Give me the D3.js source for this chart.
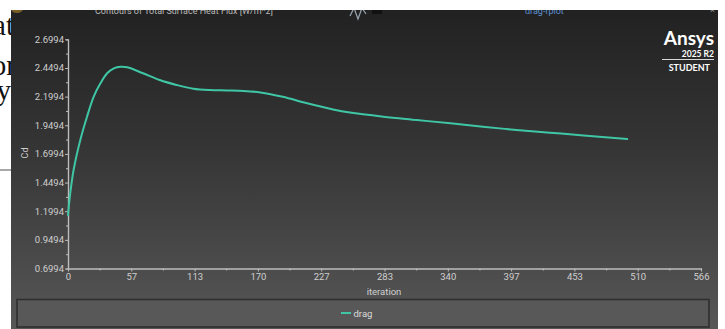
<!DOCTYPE html>
<html>
<head>
<meta charset="utf-8">
<script src="https://cdn.jsdelivr.net/npm/d3@7/dist/d3.min.js"></script>
<style>
  html, body { margin: 0; padding: 0; background: #ffffff; }
  svg { display: block; }
  text { font-family: Roboto, "Noto Sans", sans-serif; }
</style>
</head>
<body>
<svg id="chart" width="725" height="329"></svg>
<script>
// drag coefficient history (Fluent report plot "drag-rplot")
const iterations = [0, 2, 5, 11, 17, 23, 29, 35, 41, 47, 53, 67, 82, 97, 112, 127, 142, 157, 172, 192, 213, 237, 252, 282, 312, 342, 371, 401, 431, 461, 500];
const cd = [1.166, 1.355, 1.559, 1.821, 2.024, 2.199, 2.315, 2.403, 2.446, 2.460, 2.455, 2.403, 2.344, 2.301, 2.268, 2.256, 2.253, 2.249, 2.236, 2.198, 2.143, 2.087, 2.060, 2.024, 1.995, 1.966, 1.937, 1.908, 1.884, 1.861, 1.829];

const xMax = 566;
const xTickLabels = ["0", "57", "113", "170", "227", "283", "340", "397", "453", "510", "566"];
const yTickValues = [0.6994, 0.9494, 1.1994, 1.4494, 1.6994, 1.9494, 2.1994, 2.4494, 2.6994];
const seriesName = "drag";
const xTitle = "iteration";
const yTitle = "Cd";
const windowTitle = "Contours of Total Surface Heat Flux [W/m^2]";
const plotName = "drag-rplot";

const svg = d3.select("#chart");
const defs = svg.append("defs");
const grad = defs.append("linearGradient")
  .attr("id", "bg").attr("x1", 0).attr("y1", 0).attr("x2", 0).attr("y2", 1);
grad.append("stop").attr("offset", "0%").attr("stop-color", "#202020");
grad.append("stop").attr("offset", "45%").attr("stop-color", "#353535");
grad.append("stop").attr("offset", "100%").attr("stop-color", "#575757");

// document text peeking out to the left of the graphics window
const doc = svg.append("g").attr("font-size", 29).attr("fill", "#111").attr("text-anchor", "end");
doc.append("text").attr("x", 14).attr("y", 35).style("font-family", "'Liberation Serif', serif").text("at");
doc.append("text").attr("x", 16).attr("y", 75).style("font-family", "'Liberation Serif', serif").text("or");
doc.append("text").attr("x", 11).attr("y", 100).style("font-family", "'Liberation Serif', serif").text("y");
svg.append("rect").attr("x", 0).attr("y", 169).attr("width", 12).attr("height", 2).attr("fill", "#a8a8a8");

// graphics window panel
svg.append("rect").attr("x", 11).attr("y", 0).attr("width", 707).attr("height", 329).attr("fill", "url(#bg)");

// tab strip (clipped by the frame above)
svg.append("ellipse").attr("cx", 17).attr("cy", 9).attr("rx", 6).attr("ry", 4).attr("fill", "#7a5e28");
svg.append("text").attr("x", 95).attr("y", 13.5).attr("font-size", 9).attr("fill", "#b8b8b8").text(windowTitle);
svg.append("path").attr("d", "M350,16 L354,8 L358,19 L362,8 L366,14")
  .attr("fill", "none").attr("stroke", "#9aa6b2").attr("stroke-width", 1.2);
svg.append("rect").attr("x", 372).attr("y", 9).attr("width", 10).attr("height", 5).attr("fill", "#111");
svg.append("text").attr("x", 525).attr("y", 13.5).attr("font-size", 9).attr("fill", "#5d8fd0").text(plotName);
svg.append("text").attr("x", 710).attr("y", 13).attr("font-size", 9).attr("fill", "#999").text("×");
svg.append("rect").attr("x", 0).attr("y", 0).attr("width", 725).attr("height", 10).attr("fill", "#ffffff");

// scales
const x = d3.scaleLinear().domain([0, xMax]).range([68, 701]);
const y = d3.scaleLinear().domain([yTickValues[0], yTickValues[yTickValues.length - 1]]).range([268.5, 39.3]);

const axisColor = "#bdbdbd";
const labelColor = "#cfcfcf";

function styleAxis(g) {
  g.selectAll(".domain").attr("stroke", axisColor).attr("stroke-width", 1.2);
  g.selectAll(".tick line").attr("stroke", axisColor);
  g.selectAll(".tick text").attr("fill", labelColor).attr("font-size", 9.5)
    .style("font-family", "Roboto, 'Noto Sans', sans-serif");
}

// y axis with minor ticks
const yMinor = d3.range(yTickValues.length - 1).map(i => (yTickValues[i] + yTickValues[i + 1]) / 2);
svg.append("g").attr("transform", "translate(68,0)")
  .call(d3.axisLeft(y).tickValues(yMinor).tickSize(2).tickFormat(""))
  .call(styleAxis);
svg.append("g").attr("transform", "translate(68,0)")
  .call(d3.axisLeft(y).tickValues(yTickValues).tickSize(3).tickSizeOuter(0).tickPadding(1).tickFormat(d3.format(".4f")))
  .call(styleAxis);

// x axis with minor ticks
const xMajor = d3.range(xTickLabels.length).map(i => i * xMax / (xTickLabels.length - 1));
const xMinor = d3.range(xTickLabels.length - 1).map(i => (xMajor[i] + xMajor[i + 1]) / 2);
svg.append("g").attr("transform", "translate(0,268.5)")
  .call(d3.axisBottom(x).tickValues(xMinor).tickSize(2).tickFormat(""))
  .call(styleAxis);
svg.append("g").attr("transform", "translate(0,268.5)")
  .call(d3.axisBottom(x).tickValues(xMajor).tickSize(3).tickSizeOuter(0).tickPadding(2)
    .tickFormat((d, i) => xTickLabels[i]))
  .call(styleAxis);

// axis titles
svg.append("text").attr("x", 384).attr("y", 294.5).attr("text-anchor", "middle")
  .attr("font-size", 9.5).attr("fill", labelColor).text(xTitle);
svg.append("text").attr("transform", "translate(28,153) rotate(-90)").attr("text-anchor", "middle")
  .attr("font-size", 9).attr("fill", labelColor).text(yTitle);

// drag curve
const lineColor = "#3fc6a5";
const line = d3.line().x((d, i) => x(iterations[i])).y(d => y(d)).curve(d3.curveCatmullRom.alpha(0.5));
svg.append("path").datum(cd).attr("d", line)
  .attr("fill", "none").attr("stroke", lineColor).attr("stroke-width", 2).attr("stroke-linecap", "round");

// legend
svg.append("rect").attr("x", 17).attr("y", 299.5).attr("width", 692).attr("height", 27.5)
  .attr("fill", "#585858").attr("stroke", "#2f2f2f").attr("stroke-width", 1.6);
svg.append("line").attr("x1", 341).attr("x2", 351).attr("y1", 313).attr("y2", 313)
  .attr("stroke", lineColor).attr("stroke-width", 2);
svg.append("text").attr("x", 353.5).attr("y", 316.5).attr("font-size", 9.5).attr("fill", "#dcdcdc").text(seriesName);

// product badge
const badge = svg.append("g").attr("fill", "#ffffff").attr("text-anchor", "end");
badge.append("text").attr("x", 714).attr("y", 44.5).attr("font-size", 19).attr("font-weight", 700)
  .style("font-family", "Lato, 'Open Sans', sans-serif").text("Ansys");
badge.append("text").attr("x", 714).attr("y", 57).attr("font-size", 8.5).attr("font-weight", 700)
  .style("font-family", "Lato, 'Open Sans', sans-serif").text("2025 R2");
svg.append("line").attr("x1", 662).attr("x2", 714).attr("y1", 59.5).attr("y2", 59.5)
  .attr("stroke", "#d8d8d8").attr("stroke-width", 1);
badge.append("text").attr("x", 710).attr("y", 70.5).attr("font-size", 9).attr("font-weight", 700)
  .style("font-family", "Lato, 'Open Sans', sans-serif").text("STUDENT");
</script>
</body>
</html>
